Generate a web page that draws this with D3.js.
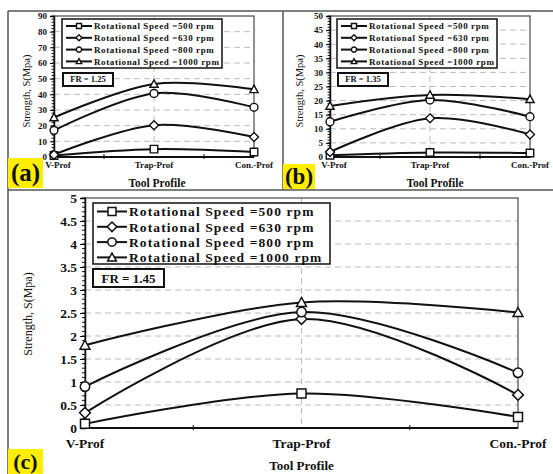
<!DOCTYPE html>
<html>
<head>
<meta charset="utf-8">
<script src="https://cdn.jsdelivr.net/npm/d3@7"></script>
<style>
  body { margin: 0; background: #fff; }
  svg { display: block; }
  text { font-family: "Liberation Serif", "Times New Roman", serif; font-weight: bold; fill: #111; }
</style>
</head>
<body>
<svg width="553" height="474"></svg>
<script>
// categories and series
var profiles = ["V-Prof", "Trap-Prof", "Con.-Prof"];
var speedLabels = ["Rotational Speed =500 rpm", "Rotational Speed =630 rpm",
                   "Rotational Speed =800 rpm", "Rotational Speed =1000 rpm"];
var markerTypes = ["square", "diamond", "circle", "triangle"];

// strength values, one row per speed (500, 630, 800, 1000 rpm)
var fr125 = [[1, 5, 3.2], [1.5, 20.3, 12.8], [17, 40.6, 31.7], [25.2, 46.6, 43.2]];
var fr135 = [[0.6, 1.6, 1.4], [1.8, 13.7, 8], [12.5, 20.2, 14.3], [18.1, 22, 20.5]];
var fr145 = [[0.09, 0.75, 0.24], [0.33, 2.37, 0.72], [0.9, 2.52, 1.2], [1.8, 2.73, 2.51]];

// y tick labels
var ticks125 = [0, 10, 20, 30, 40, 50, 60, 70, 80, 90];
var ticks135 = [0, 5, 10, 15, 20, 25, 30, 35, 40, 45, 50];
var ticks145 = [0, 0.5, 1, 1.5, 2, 2.5, 3, 3.5, 4, 4.5, 5];

var svg = d3.select("svg");

// panel frames
var frame = svg.append("g").attr("stroke", "#555").attr("stroke-width", 1.5).attr("fill", "none");
frame.append("line").attr("x1", 8).attr("y1", 11).attr("x2", 553).attr("y2", 11);
frame.append("line").attr("x1", 8).attr("y1", 11).attr("x2", 8).attr("y2", 474);
frame.append("line").attr("x1", 8).attr("y1", 190).attr("x2", 553).attr("y2", 190);
frame.append("line").attr("x1", 283).attr("y1", 11).attr("x2", 283).attr("y2", 190);

function markerPath(type, s) {
    var h = s / 2;
    if (type == "square") return "M" + (-h) + "," + (-h) + "h" + s + "v" + s + "h" + (-s) + "Z";
    if (type == "diamond") { h = h * 1.2; return "M0," + (-h) + "L" + h + ",0L0," + h + "L" + (-h) + ",0Z"; }
    if (type == "triangle") { h = h * 1.1; return "M0," + (-h) + "L" + h + "," + (h * 0.8) + "L" + (-h) + "," + (h * 0.8) + "Z"; }
    h = h * 1.05;
    return "M" + (-h) + ",0A" + h + "," + h + " 0 1,0 " + h + ",0A" + h + "," + h + " 0 1,0 " + (-h) + ",0Z";
}

function drawPanel(p) {
    var g = svg.append("g");
    var x = d3.scalePoint().domain(profiles).range([p.x0, p.x1]).padding(0);
    var y = d3.scaleLinear().domain([0, p.ticks[p.ticks.length - 1]]).range([p.y1, p.y0]);

    // grid
    g.append("g").selectAll("line")
        .data(p.ticks.slice(1, -1))
        .enter().append("line")
        .attr("x1", p.x0).attr("x2", p.x1)
        .attr("y1", function (d) { return y(d); })
        .attr("y2", function (d) { return y(d); })
        .attr("stroke", "#bbb").attr("stroke-width", 1)
        .attr("stroke-dasharray", "6,4");
    g.append("line")
        .attr("x1", x(profiles[1])).attr("x2", x(profiles[1]))
        .attr("y1", p.y0).attr("y2", p.y1)
        .attr("stroke", "#bbb").attr("stroke-dasharray", "6,4");

    // plot frame
    g.append("rect")
        .attr("x", p.x0).attr("y", p.y0)
        .attr("width", p.x1 - p.x0).attr("height", p.y1 - p.y0)
        .attr("fill", "none").attr("stroke", "#222").attr("stroke-width", 1);

    // y axis
    var yAxis = d3.axisLeft(y)
        .tickValues(p.ticks)
        .tickSize(p.tick)
        .tickFormat(d3.format("~g"));
    var ya = g.append("g").attr("transform", "translate(" + p.x0 + ",0)").call(yAxis);
    ya.select(".domain").attr("stroke", "#111").attr("stroke-width", 1.5);
    ya.selectAll("text").style("font-size", p.tickFont + "px").attr("x", -p.tick - 3);
    g.append("g").selectAll("line")
        .data(d3.range(0, p.ticks[p.ticks.length - 1] + 1e-9, p.minor))
        .enter().append("line")
        .attr("x1", p.x0 - p.tick * 0.6).attr("x2", p.x0)
        .attr("y1", function (d) { return y(d); })
        .attr("y2", function (d) { return y(d); })
        .attr("stroke", "#111").attr("stroke-width", 1);

    // x axis
    g.append("line")
        .attr("x1", p.x0).attr("x2", p.x1).attr("y1", p.y1).attr("y2", p.y1)
        .attr("stroke", "#111").attr("stroke-width", 2);
    g.append("g").selectAll("line")
        .data([0.5, 1.5])
        .enter().append("line")
        .attr("x1", function (d) { return p.x0 + (p.x1 - p.x0) * d / 2; })
        .attr("x2", function (d) { return p.x0 + (p.x1 - p.x0) * d / 2; })
        .attr("y1", p.y1 - 3).attr("y2", p.y1 + 2)
        .attr("stroke", "#111");
    g.append("g").selectAll("text")
        .data(profiles)
        .enter().append("text")
        .attr("x", function (d, i) { return x(d) + (i == 0 ? p.firstDx : 0); })
        .attr("y", p.y1 + p.xLabDy)
        .attr("text-anchor", "middle")
        .style("font-size", p.tickFont + "px")
        .text(function (d) { return d; });

    // titles
    g.append("text")
        .attr("x", (p.x0 + p.x1) / 2 + p.titleDx).attr("y", p.titleY)
        .attr("text-anchor", "middle")
        .style("font-size", p.titleFont + "px")
        .text("Tool Profile");
    g.append("text")
        .attr("transform", "translate(" + p.yLabX + "," + p.yLabY + ") rotate(-90)")
        .attr("text-anchor", "middle")
        .style("font-size", p.yLabFont + "px")
        .style("font-weight", "normal")
        .text("Strength, S(Mpa)");

    // series
    var line = d3.line()
        .x(function (d, i) { return x(profiles[i]); })
        .y(function (d) { return y(d); })
        .curve(d3.curveCatmullRom.alpha(0));
    p.data.forEach(function (vals, k) {
        g.append("path")
            .attr("d", line(vals))
            .attr("fill", "none").attr("stroke", "#111").attr("stroke-width", p.lineW);
        g.append("g").selectAll("path")
            .data(vals)
            .enter().append("path")
            .attr("transform", function (d, i) { return "translate(" + x(profiles[i]) + "," + y(d) + ")"; })
            .attr("d", markerPath(markerTypes[k], p.mark))
            .attr("fill", "#fff").attr("stroke", "#111").attr("stroke-width", p.markW);
    });

    // legend
    var lg = g.append("g");
    lg.append("rect")
        .attr("x", p.lx).attr("y", p.ly).attr("width", p.lw).attr("height", p.lh)
        .attr("fill", "#fff").attr("stroke", "#111").attr("stroke-width", 1.5);
    speedLabels.forEach(function (s, k) {
        var ry = p.ly + p.lpad + k * p.lrow;
        lg.append("line")
            .attr("x1", p.lx + 4).attr("x2", p.lx + 4 + p.lline)
            .attr("y1", ry).attr("y2", ry)
            .attr("stroke", "#111").attr("stroke-width", p.lineW);
        lg.append("path")
            .attr("transform", "translate(" + (p.lx + 4 + p.lline / 2) + "," + ry + ")")
            .attr("d", markerPath(markerTypes[k], p.lmark))
            .attr("fill", "#fff").attr("stroke", "#111").attr("stroke-width", p.markW);
        lg.append("text")
            .attr("x", p.lx + 6 + p.lline).attr("y", ry)
            .attr("dy", "0.35em")
            .style("font-size", p.legFont + "px")
            .style("letter-spacing", p.legSpace + "px")
            .text(s);
    });

    // FR box
    g.append("rect")
        .attr("x", p.fx).attr("y", p.fy).attr("width", p.fw).attr("height", p.fh)
        .attr("fill", "#fff").attr("stroke", "#111").attr("stroke-width", 2);
    g.append("text")
        .attr("x", p.fx + p.fw / 2).attr("y", p.fy + p.fh / 2)
        .attr("dy", "0.35em").attr("text-anchor", "middle")
        .style("font-size", p.frFont + "px")
        .text(p.fr);

    // panel letter
    g.append("rect")
        .attr("x", p.bx).attr("y", p.by).attr("width", p.bw).attr("height", p.bh)
        .attr("fill", "#ffee00");
    g.append("text")
        .attr("x", p.bx + p.bw / 2).attr("y", p.by + p.bh / 2)
        .attr("dy", "0.33em").attr("text-anchor", "middle")
        .style("font-size", p.letterFont + "px")
        .text(p.letter);
}

drawPanel({
    data: fr125, ticks: ticks125, minor: 2, fr: "FR = 1.25", letter: "(a)",
    x0: 54, x1: 254, y0: 16, y1: 157,
    tick: 4, tickFont: 9, xLabDy: 11, firstDx: 4, titleY: 187, titleDx: 3, titleFont: 11.5,
    yLabX: 30, yLabY: 91, yLabFont: 10.5,
    lineW: 2, mark: 7.5, markW: 1.4,
    lx: 62, ly: 19, lw: 160, lh: 49, lpad: 7, lrow: 11.8, lline: 26, lmark: 5,
    legFont: 9, legSpace: 0.6,
    fx: 63, fy: 73, fw: 50, fh: 13, frFont: 8.5,
    bx: 8, by: 158, bw: 35, bh: 30, letterFont: 25
});

drawPanel({
    data: fr135, ticks: ticks135, minor: 1, fr: "FR = 1.35", letter: "(b)",
    x0: 330, x1: 530, y0: 16, y1: 157,
    tick: 4, tickFont: 9, xLabDy: 11, firstDx: 4, titleY: 187, titleDx: 5, titleFont: 11.5,
    yLabX: 303, yLabY: 91, yLabFont: 10.5,
    lineW: 2, mark: 7.5, markW: 1.4,
    lx: 337, ly: 19, lw: 160, lh: 49, lpad: 7, lrow: 11.8, lline: 26, lmark: 5,
    legFont: 9, legSpace: 0.6,
    fx: 338, fy: 73, fw: 50, fh: 13, frFont: 8.5,
    bx: 283, by: 164, bw: 32, bh: 25, letterFont: 23
});

drawPanel({
    data: fr145, ticks: ticks145, minor: 0.1, fr: "FR = 1.45", letter: "(c)",
    x0: 85, x1: 518, y0: 198, y1: 428,
    tick: 5, tickFont: 13.5, xLabDy: 20, firstDx: 0, titleY: 470, titleDx: 0, titleFont: 13,
    yLabX: 32, yLabY: 314, yLabFont: 12,
    lineW: 2, mark: 9, markW: 1.5,
    lx: 93, ly: 203, lw: 237, lh: 61, lpad: 8.5, lrow: 15.3, lline: 30, lmark: 8,
    legFont: 13.5, legSpace: 1.1,
    fx: 93, fy: 269, fw: 71, fh: 18, frFont: 13,
    bx: 8, by: 449, bw: 35, bh: 25, letterFont: 22
});
</script>
</body>
</html>
